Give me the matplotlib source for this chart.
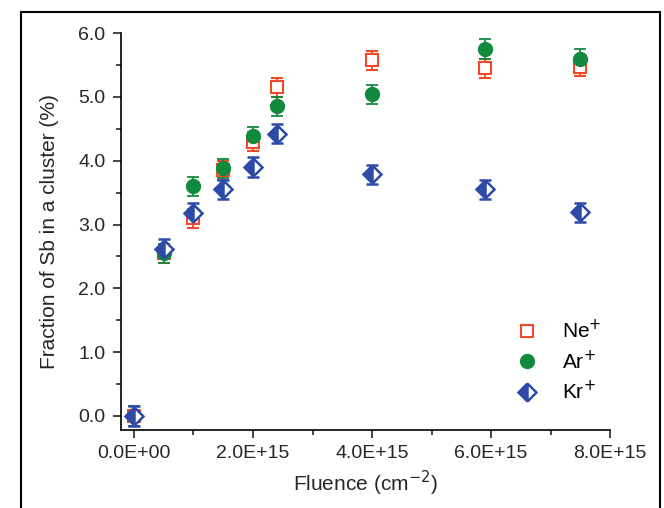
import matplotlib.pyplot as plt
from matplotlib.patches import Rectangle
from matplotlib.lines import Line2D
from matplotlib.ticker import MultipleLocator, FuncFormatter

plt.rcParams['font.family'] = ['Liberation Sans', 'DejaVu Sans']

# fluence in units of 1E15 cm^-2
fluence = [0.0, 0.5, 1.0, 1.5, 2.0, 2.4, 4.0, 5.9, 7.5]
ne_vals = [0.0, 2.55, 3.1, 3.85, 4.3, 5.15, 5.57, 5.45, 5.47]
ar_vals = [0.0, 2.55, 3.6, 3.88, 4.38, 4.85, 5.04, 5.75, 5.6]
kr_vals = [0.0, 2.62, 3.18, 3.55, 3.9, 4.42, 3.79, 3.55, 3.19]
err = 0.15

red = '#f04a28'
green = '#128a3e'
blue = '#2e4aa8'
txt = '#262626'

fig = plt.figure(figsize=(6.64, 5.08), dpi=100)
fig.patches.append(Rectangle((21 / 664, -0.05), 639 / 664, 1 - 12 / 508 + 0.05,
                             transform=fig.transFigure, fill=False,
                             edgecolor='black', linewidth=1.5))
ax = fig.add_axes([0.182, 0.1535, 0.737, 0.7815])

eb = dict(elinewidth=1.3, capsize=4.5, capthick=1.3)
ax.errorbar(fluence, ne_vals, yerr=err, fmt='s', ms=9, mfc='white', mec=red,
            mew=1.5, ecolor=red, **eb)
ax.errorbar(fluence, ar_vals, yerr=err, fmt='o', ms=10, mfc=green, mec=green,
            ecolor=green, **eb)
ax.errorbar(fluence, kr_vals, yerr=err, fmt='D', ms=9, fillstyle='left',
            mfc=blue, mfcalt='white', mec=blue, mew=1.8, ecolor=blue, **eb)

ax.set_xlim(-0.22, 8.0)
ax.set_ylim(-0.22, 6.0)
ax.spines['top'].set_visible(False)
ax.spines['right'].set_visible(False)
ax.spines['left'].set_linewidth(1.2)
ax.spines['bottom'].set_linewidth(1.2)

ax.xaxis.set_major_locator(MultipleLocator(2))
ax.xaxis.set_minor_locator(MultipleLocator(1))
ax.yaxis.set_major_locator(MultipleLocator(1))
ax.yaxis.set_minor_locator(MultipleLocator(0.5))
ax.xaxis.set_major_formatter(FuncFormatter(
    lambda v, p: '0.0E+00' if v == 0 else f'{v:.1f}E+15'))
ax.yaxis.set_major_formatter(FuncFormatter(lambda v, p: f'{v:.1f}'))
ax.tick_params(which='major', direction='out', length=6, width=1.2,
               labelsize=14, colors=txt, pad=5)
ax.tick_params(which='minor', direction='out', length=3.5, width=1.2, colors=txt)

ax.set_xlabel('Fluence (cm$^{-2}$)', fontsize=15, color=txt, labelpad=5)
ax.set_ylabel('Fraction of Sb in a cluster (%)', fontsize=15, color=txt, labelpad=14)

handles = [
    Line2D([], [], ls='none', marker='s', ms=9, mfc='white', mec=red, mew=1.5),
    Line2D([], [], ls='none', marker='o', ms=10, mfc=green, mec=green),
    Line2D([], [], ls='none', marker='D', ms=9, fillstyle='left', mfc=blue,
           mfcalt='white', mec=blue, mew=1.8),
]
ax.legend(handles, ['Ne$^{+}$', 'Ar$^{+}$', 'Kr$^{+}$'], loc='lower right',
          bbox_to_anchor=(1.02, 0.02), frameon=False, fontsize=15,
          handletextpad=0.9, labelspacing=0.35, handlelength=1.5)

fig.savefig('out.png', dpi=100)
